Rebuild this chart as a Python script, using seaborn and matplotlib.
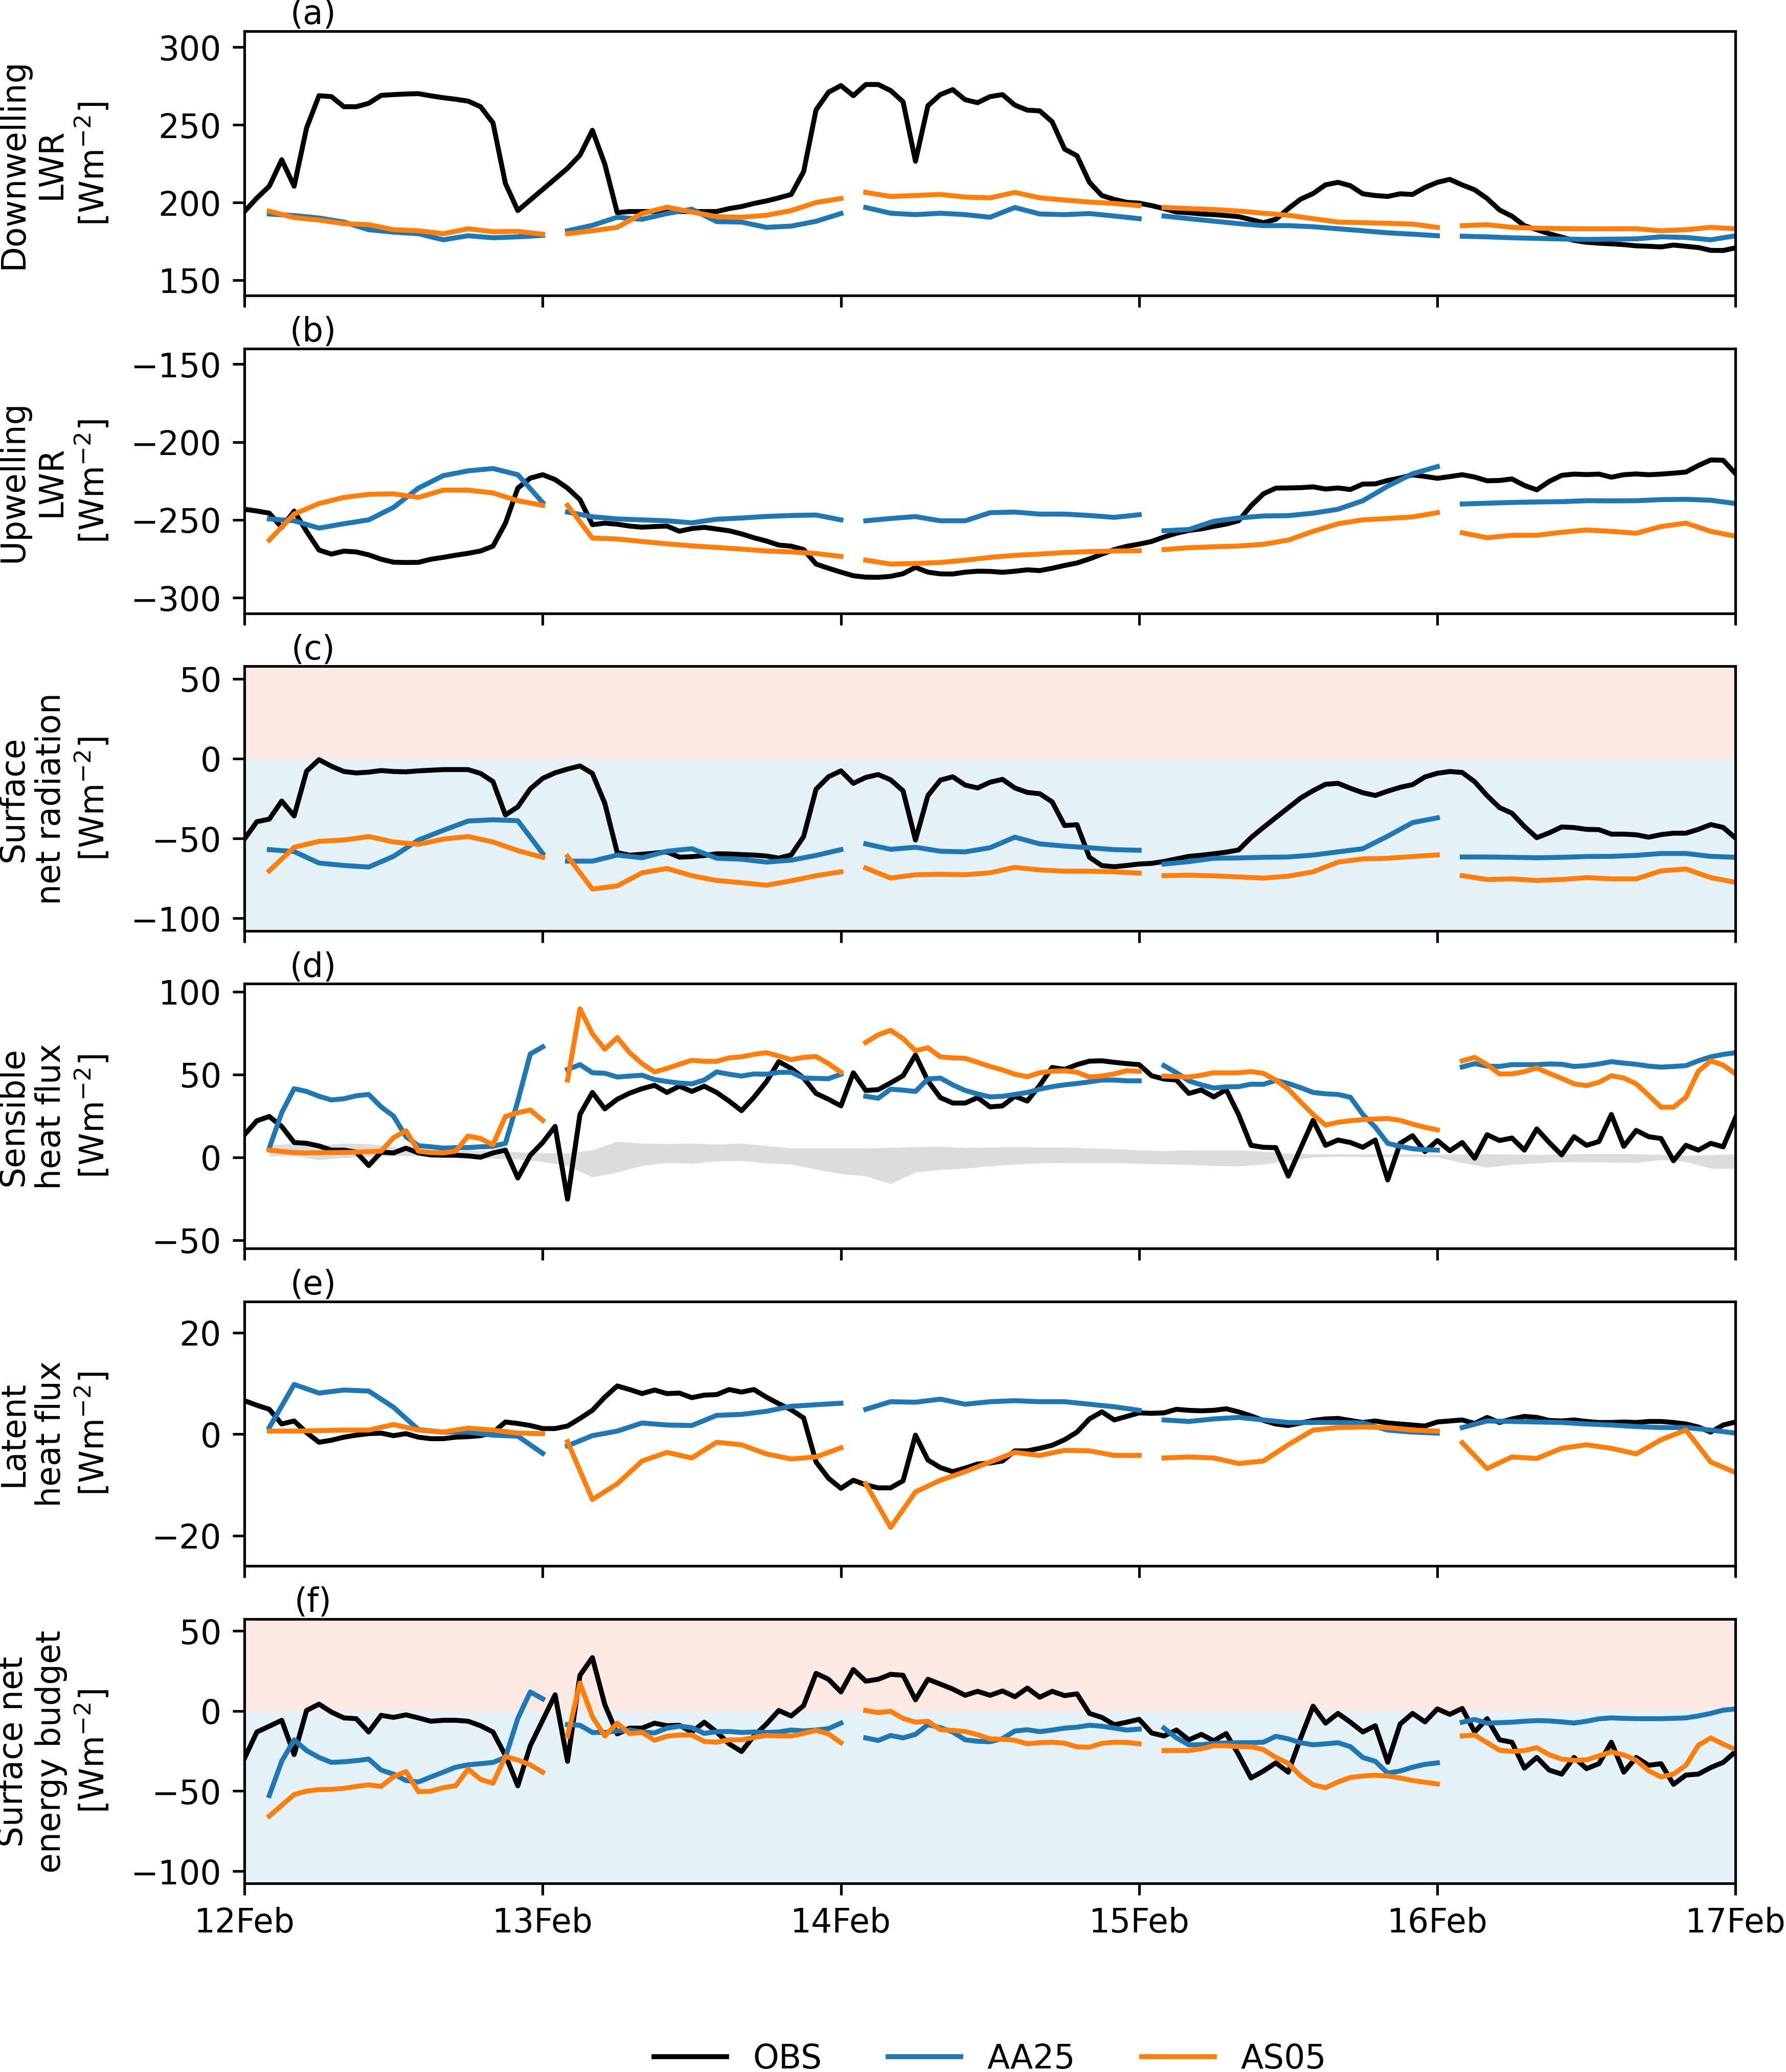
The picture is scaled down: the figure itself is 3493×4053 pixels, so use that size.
import numpy as np
import pandas as pd
import matplotlib
matplotlib.use("Agg")
import matplotlib.pyplot as plt
from matplotlib.lines import Line2D
import seaborn as sns

# ---------------- data ----------------
DAY_LABELS = ["12Feb", "13Feb", "14Feb", "15Feb", "16Feb", "17Feb"]
SOURCES = ["OBS", "AA25", "AS05"]

# (a) downwelling LWR (OBS hourly)
obs_a = [194.2, 202.9, 210.5, 227.5, 210.5, 248, 268.8, 268.2, 261.7, 261.7,
         263.9, 269, 269.5, 269.9, 270.1, 268.7, 267.5, 266.5, 265.3, 261.7,
         251.3, 212.3, 194.8, 201.6, 208.4, 215.2, 222.1, 230.5, 246.5, 224.7,
         193.5, 194.2, 194.2, 194.2, 194.2, 194.2, 194.2, 194.2, 194.2, 196.1,
         197.4, 199.4, 201, 203, 205.2, 219.9, 259.7, 271, 275.3, 268.8,
         276, 276, 272.1, 264.9, 226.6, 262.3, 269.5, 272.7, 266.2, 264.3,
         268.2, 269.5, 262.7, 259.5, 259, 252, 234.4, 230.1, 213, 204.5,
         202, 200.1, 199.6, 198, 196.1, 193.9, 193.4, 192.6, 192.2, 191.6,
         190.9, 189, 187, 189.2, 196.1, 202.2, 205.8, 211.4, 213, 210.8,
         205.6, 204.5, 203.9, 205.6, 205.2, 209.7, 213, 214.9, 211.3, 208.2,
         202.6, 195.2, 191.2, 185.1, 182.5, 179.9, 177.7, 175.6, 174.4, 173.8,
         173.4, 172.9, 172.1, 171.8, 171.4, 172.6, 171.8, 171, 169.2, 169.1,
         170.8]
aa25_a = [192.6, 191.6, 190, 187.4, 182.5, 180.9, 179.9, 176, 178.6, 177.3, 177.9, 178.8,
          181.8, 185.3, 190.5, 189.2, 192.9, 195.7, 187.7, 187.4, 184, 184.8, 187.9, 192.9,
          196.8, 193.1, 192.2, 193.1, 192.2, 190.5, 196.8, 192.6, 192.2, 192.9, 191.3, 189.6,
          191.3, 189.6, 188, 186.4, 185.1, 185.1, 184.4, 183.1, 181.8, 180.5, 179.6, 178.6,
          178.3, 177.9, 177.3, 176.9, 176.5, 176.2, 176.4, 176.6, 177.9, 177.5, 176, 178.6]
as05_a = [194.4, 190.3, 188.7, 186.4, 185.7, 182.5, 181.8, 179.9, 183.1, 181.2, 181.4, 179.6,
          179.9, 181.8, 184, 192.9, 197, 193.9, 190.9, 190.5, 191.8, 194.8, 200, 202.6,
          206.5, 203.9, 204.5, 205.2, 203.5, 203, 206.5, 203, 201.6, 200.3, 199.4, 198,
          196.8, 196.1, 195.5, 194.5, 193.1, 191.8, 189.6, 187.4, 187, 186.6, 186.1, 184,
          185.1, 185.7, 184, 183.5, 183.2, 183.1, 183.1, 183.1, 181.8, 182.5, 184, 183.1]

# (b) upwelling LWR (OBS hourly)
obs_b = [-243.2, -244.3, -245.7, -254.9, -244.4, -257.4, -269.4, -272, -270.1, -270.6,
         -272.5, -275.3, -277.2, -277.4, -277.3, -275.3, -274.1, -272.7, -271.5, -270,
         -266.9, -252.2, -229.6, -223.2, -221, -224.1, -229.6, -237, -253.1, -252.1,
         -252.8, -254, -254.7, -254.3, -254, -257.3, -255.6, -254.8, -255.9, -257,
         -259, -261.5, -263.6, -266.2, -266.9, -269.1, -278.4, -281.1, -283.6, -285.9,
         -286.8, -286.9, -286.3, -284.6, -280.5, -283.6, -284.7, -284.8, -283.6, -283,
         -283.1, -283.7, -283, -282.1, -282.6, -281.1, -279.3, -277.7, -275.1, -272,
         -269.1, -267, -265.6, -263.9, -261, -258.6, -256.8, -255.8, -254.2, -252.7,
         -250.6, -241, -233.3, -229.6, -229.5, -229.3, -228.8, -230.2, -229.5, -230.5,
         -227, -226.9, -224.7, -223.1, -221.1, -222.1, -223.3, -222.2, -221, -222.5,
         -224.9, -224.7, -223.7, -227.9, -230.7, -225.3, -221.4, -220.6, -220.9, -220.6,
         -222.6, -221, -220.5, -221, -220.6, -220, -219.3, -215.1, -211.5, -211.7,
         -220.4]
aa25_b = [-249.4, -250.6, -255.3, -252.5, -250, -242, -229.6, -221.6, -218.5, -217, -221, -238.9,
          -245, -248, -249.4, -250, -250.6, -251.9, -249.6, -248.8, -247.8, -247.2, -246.9, -250,
          -250.6, -249.1, -247.9, -250.6, -250.6, -245.4, -245, -246.3, -246.3, -247.2, -248.4, -246.7,
          -257, -256.2, -250.9, -248.8, -247.5, -247.3, -245.7, -243.2, -237.7, -228.4, -220.4, -215.8,
          -239.8, -239.3, -238.8, -238.5, -238.3, -237.7, -237.8, -237.7, -237, -236.8, -237.4, -239.5]
as05_b = [-263, -246.3, -239.5, -235.6, -233.6, -233.3, -235.6, -230.9, -230.9, -232.7, -237.7, -240.7,
          -240.7, -261.7, -262.3, -263.9, -265.4, -266.7, -267.7, -268.8, -270, -270.6, -271.6, -273.5,
          -275.9, -278.4, -278, -277.4, -275.9, -274.1, -272.8, -272, -271, -270.4, -270, -269.8,
          -269.1, -267.9, -267.3, -266.8, -265.7, -263, -257.4, -252.5, -250, -249.1, -248.1, -245.4,
          -258.3, -261.5, -259.9, -259.9, -258, -256.5, -257.4, -258.6, -254.3, -252.1, -257.4, -260.5]

# (c) surface net radiation (OBS hourly)
obs_c = [-50.4, -39.5, -37.9, -26.6, -35.9, -7.9, -0.7, -4.8, -8.1, -9,
         -8.5, -7.5, -8.1, -8.3, -7.7, -7.3, -6.9, -6.9, -6.9, -9.3,
         -14.4, -35.3, -30.2, -19, -12.4, -8.9, -6.6, -4.6, -9.3, -28,
         -58.9, -60.5, -59.9, -59.2, -58.4, -61.7, -61.4, -60.7, -59.6, -59.7,
         -60.1, -60.4, -61, -62.3, -60.3, -48.8, -19.2, -11.4, -7.7, -15.5,
         -11.8, -10, -13.3, -20.2, -51, -23.2, -13.5, -11.4, -16.6, -18.4,
         -14.8, -13, -18.4, -21.2, -22, -27.1, -41.9, -41.4, -61.8, -67,
         -67.7, -66.9, -66, -65.6, -64.4, -62.8, -61.2, -60.5, -59.6, -58.6,
         -57.2, -49.5, -43.1, -36.9, -30.8, -24.7, -20.1, -16.1, -15.5, -18.6,
         -21.4, -23.1, -20.4, -18, -16.3, -11.5, -9.2, -8.1, -8.7, -14.5,
         -23.2, -30.7, -34.2, -42.5, -49.5, -46.5, -42.8, -43.2, -44.3, -44.5,
         -47.3, -47.3, -47.7, -49.2, -47.6, -46.7, -46.7, -44.3, -41.3, -43.1,
         -49.8]
aa25_c = [-57, -58.2, -65.4, -66.9, -67.9, -61.2, -51, -44.9, -39.1, -38.3, -38.9, -59.4,
          -64.2, -64.2, -60.4, -62.1, -58, -56.4, -62.4, -63, -64.8, -63.6, -60.6, -57,
          -53.4, -56.8, -55.5, -58, -58.4, -55.8, -49.2, -53.4, -54.8, -55.8, -57, -57.4,
          -66, -64.5, -62.4, -62.2, -61.8, -61.6, -60.4, -58.4, -56.4, -48.6, -40.1, -37.1,
          -61.6, -61.6, -61.8, -62.1, -61.8, -61.3, -61.2, -60.6, -59.4, -59.4, -61.2, -61.8]
as05_c = [-70.3, -55.5, -51.8, -51, -48.8, -52.2, -53.7, -50.4, -48.8, -52.2, -57.6, -61.8,
          -61.2, -81.7, -79.7, -71.5, -68.8, -73.3, -76.3, -77.7, -79.3, -76.5, -73.3, -70.9,
          -68.5, -74.8, -72.7, -72.4, -72.7, -71.5, -68.1, -69.7, -70.5, -70.5, -70.9, -71.7,
          -73.3, -73, -73.4, -74.1, -74.8, -73.6, -70.9, -64.8, -62.8, -62.4, -61.3, -60.3,
          -73.3, -75.7, -75.3, -76.3, -75.7, -74.5, -75.3, -75.3, -70.3, -69.1, -74.5, -77.5]

# (d) sensible heat flux (hourly)
obs_d = [13.6, 22, 24.6, 18.6, 8.9, 8.4, 6.8, 4.3, 4.3, 3.1,
         -5, 3.1, 2.6, 5.5, 2.6, 1.4, 1.2, 1.2, 0.8, 0,
         2.6, 4.3, -12.5, 1.2, 8.9, 18.6, -25.3, 25.8, 39.1, 29.2,
         35, 38.7, 41.4, 43.4, 39.1, 42.9, 39.7, 42.9, 39.1, 33.9,
         28.1, 36.2, 45.5, 57.7, 53.6, 47.8, 38.5, 35, 31, 51,
         40.3, 40.8, 44.9, 49.2, 61.7, 46.1, 36, 32.7, 32.7, 36,
         30.4, 31, 36.8, 33.9, 43.4, 54.2, 53, 55.9, 58, 58.2,
         57.3, 56.5, 55.9, 49.2, 47.2, 46.6, 38.5, 40.6, 36.4, 40.8,
         25.8, 7.2, 6, 5.8, -11.4, 5.5, 22.3, 7.2, 10.4, 8.9,
         6, 10.4, -13.7, 8.4, 13, 3.4, 10.1, 3.9, 8.9, -0.6,
         13.6, 10.1, 11.6, 4.3, 17.1, 8.9, 1.4, 12.4, 7.2, 9.5,
         25.8, 6.6, 16.2, 12.4, 11.3, -2.1, 7.2, 4.3, 8.4, 6.3,
         24]
aa25_d = [5.5, 26.9, 41.4, 39.7, 36.8, 34.6, 35.3, 37.1, 37.9, 30.4, 24.8, 12.4, 7, 6.3, 5.5, 5.8, 5.8, 6.3, 6.6, 8.4, 33.9, 62.3, 66.6,
          53, 55.9, 51, 50.7, 48.4, 49, 49.5, 46.9, 45.7, 44.8, 44.3, 46.6, 51.5, 50.1, 49, 50.3, 50.1, 51.2, 51.3, 47.8, 47.6, 47.4, 50.1,
          36.8, 35.6, 41.1, 40.5, 39.7, 47.2, 47.8, 43.7, 40.3, 38.2, 36.4, 36.8, 37.9, 39.1, 41.1, 42.6, 43.7, 44.5, 45.5, 46.6, 46.6, 46.1, 46.1,
          55.3, 51, 46.1, 43.7, 41.8, 42.5, 42.6, 44.1, 44, 46.4, 44.5, 42, 39.1, 38.3, 37.9, 36.2, 25.8, 18.2, 8.4, 6.6, 5.1, 4.6, 4.3,
          54.5, 56.5, 55, 54.8, 55.9, 55.9, 55.9, 56.3, 56.1, 54.8, 55.3, 56.3, 57.7, 56.8, 56.1, 55, 54.4, 54.8, 55.3, 58.2, 60.6, 62.1, 63.1]
as05_d = [4.3, 3.5, 2.8, 2.6, 2.8, 2.8, 2.9, 3.1, 3.4, 3.7, 11.8, 16, 3.7, 2.8, 2.6, 3.7, 12.8, 11.3, 7.5, 24.6, 26.9, 28.5, 22.3,
          46.6, 89.6, 74.5, 65.2, 72.2, 63.1, 56.5, 51.5, 53.6, 56.1, 58.5, 57.9, 57.9, 60, 60.6, 62.1, 63.1, 61.1, 58.9, 60.3, 60.8, 56.5, 51.3,
          69.3, 73.9, 76.6, 71.6, 64.3, 66.1, 60.6, 60, 59.7, 57.3, 54.8, 52.7, 50.1, 48.6, 51, 51.9, 52.2, 51.3, 48.4, 49, 50.3, 52.2, 51.9,
          49, 48.7, 48.4, 49.5, 51, 50.9, 51, 51.7, 50.6, 46.6, 41.1, 33.3, 25.8, 19.4, 21.1, 22, 22.7, 23.1, 23.4, 22.3, 20, 18.1, 16.5,
          58.2, 60.3, 55.9, 50.3, 50.3, 51.7, 53.9, 50.6, 47.6, 44.3, 43.2, 45.2, 49.2, 47.8, 44.3, 37.4, 30.2, 30.2, 36.2, 51.9, 58.2, 55.6, 50.3]
band_lo_d = [0.8, 0.8, -1.5, -0.3, 0.5, 0.8, 0.8, 0.2, -0.2, -0.7, -1.2, -2.7,
             -5, -12, -9, -5, -3.3, -3.8, -2.3, -2.1, -3.5, -4.2, -7.3, -10,
             -11.4, -16, -9, -7.4, -6.7, -5.3, -4.2, -3.5, -3.3, -3.3, -3.3, -3.8,
             -4.2, -4.4, -5.1, -5.3, -4.2, -1.9, 0, 0.5, 0.2, 0.2, 0.2, 0,
             -3.3, -6.1, -4.4, -3.5, -2.8, -2.9, -3, -3.3, -1.5, -2.7, -6.7, -6.9]
band_hi_d = [7.2, 8.4, 7.2, 8.4, 8.0, 6.3, 4.6, 3.7, 4.2, 3.9, 3.1, 2.6,
             2.6, 4.3, 9.5, 8.4, 8.1, 8.4, 7.8, 8.4, 7.0, 5.5, 5.5, 5.5,
             5.5, 5.8, 6.3, 6.5, 5.8, 6.0, 6.3, 6.0, 6.0, 5.5, 5.1, 4.3,
             3.9, 4.3, 4.3, 4.3, 3.5, 2.3, 2.0, 2.0, 2.0, 2.0, 1.9, 1.6,
             2.0, 2.0, 1.9, 1.6, 1.9, 2.0, 2.0, 2.0, 1.7, 1.2, 1.4, 2.0]

# (e) latent heat flux (OBS hourly)
obs_e = [6.6, 5.7, 4.9, 2, 2.6, 0.3, -1.6, -1.2, -0.6, -0.2,
         0.1, 0.2, -0.3, 0.1, -0.6, -0.9, -0.9, -0.6, -0.5, -0.3,
         0.3, 2.4, 2.1, 1.7, 1.1, 1.1, 1.6, 3.1, 4.7, 7.3,
         9.5, 8.8, 8, 8.7, 8, 8.1, 7.2, 7.7, 7.8, 8.8,
         8.3, 8.8, 7.3, 6, 4.8, 3.2, -5.5, -8.7, -10.7, -9.1,
         -10, -10.6, -10.6, -9.2, -0.2, -5.1, -6.6, -7.4, -6.7, -5.9,
         -5.7, -5.3, -3.3, -3.3, -2.8, -2.2, -1.1, 0.4, 3, 4.4,
         2.8, 3.5, 4.2, 4.1, 4.2, 4.9, 4.7, 4.6, 4.7, 5,
         4.4, 3.6, 2.7, 2, 1.7, 2.2, 2.7, 3, 3.1, 2.7,
         2.3, 2.6, 2.2, 2, 1.8, 1.6, 2.4, 2.6, 2.8, 2.1,
         3.3, 2.3, 3, 3.5, 3.3, 2.7, 2.6, 2.8, 2.5, 2.3,
         2.3, 2.4, 2.3, 2.5, 2.5, 2.3, 2, 1.4, 0.4, 1.8,
         2.4]
aa25_e = [1.3, 9.8, 8.1, 8.7, 8.5, 5.3, 0.9, 0.4, 0.4, -0.2, -0.4, -3.8,
          -2.3, -0.3, 0.6, 2.2, 1.8, 1.7, 3.7, 3.9, 4.5, 5.5, 5.8, 6.1,
          4.9, 6.4, 6.3, 6.9, 5.9, 6.4, 6.6, 6.4, 6.4, 5.9, 5.4, 4.7,
          2.8, 2.5, 3, 3.3, 2.8, 2.3, 2.3, 2.3, 2.2, 0.8, 0.4, 0.2,
          1.3, 2.6, 2.5, 2.4, 2.3, 2, 1.8, 1.5, 1.3, 1.3, 0.8, 0.2]
as05_e = [0.6, 0.6, 0.7, 0.8, 0.8, 1.9, 0.8, 0.4, 1.2, 0.8, 0.2, 0.1,
          -1.5, -12.9, -9.8, -5.3, -3.6, -4.7, -1.6, -2.1, -3.9, -4.9, -4.5, -2.7,
          -9.8, -18.4, -11.4, -9.1, -7.4, -5.5, -3.6, -4.2, -3.2, -3.3, -4.2, -4.2,
          -4.7, -4.5, -4.7, -5.8, -5.3, -2.1, 0.8, 1.3, 1.4, 1.3, 0.8, 0.6,
          -1.7, -6.8, -4.5, -4.8, -2.8, -2.1, -2.8, -3.9, -1.1, 0.8, -5.5, -7.6]

# (f) surface net energy budget (hourly)
obs_f = [-29.6, -13.1, -9.5, -5.8, -27.2, 0.3, 4.3, -0.7, -4.3, -4.8,
         -13.1, -2.7, -4, -2.4, -4.3, -6.4, -5.8, -5.8, -6.4, -9.2,
         -13.1, -27.8, -46.7, -21.7, -5.8, 10.1, -31.4, 22.3, 33.3, 4,
         -14.3, -10.7, -10.7, -7.6, -9.2, -8.9, -13.1, -7, -13.1, -20.5,
         -25.3, -15.6, -8.2, 0.3, -3.1, 3.4, 23.5, 19.8, 11.9, 25.9,
         18.6, 19.8, 22.9, 22.3, 7, 19.8, 16.8, 13.7, 9.8, 12.3,
         9.8, 12.5, 8.9, 14.3, 8.6, 12.3, 9.6, 10.7, -1.5, -4,
         -8.6, -7, -5.2, -13.7, -15.6, -11.9, -18, -14.6, -18.6, -14.1,
         -27.2, -41.8, -37.5, -32.4, -38.2, -16.8, 3, -7.6, -1.5, -7,
         -13.1, -9.2, -32, -8.2, -1.5, -6.8, 1.3, -2.1, 1.6, -13.1,
         -4.8, -18, -19.5, -35.7, -29, -36.9, -39.4, -29, -36, -32.9,
         -19.5, -38.2, -29, -33.9, -32.9, -45.8, -40, -39.4, -35.3, -32.1,
         -25.3]
aa25_f = [-52.8, -31.4, -18, -24.7, -29, -32.1, -31.7, -31, -30, -36.9, -39.4, -43.4, -44.3, -41.2, -38.2, -35.1, -33.6, -32.9, -32.1, -29, -4.6, 11.9, 7.6,
          -8.5, -8.9, -13.4, -13.4, -12.5, -11.9, -13.1, -13.7, -10.7, -9.5, -10.4, -14, -12.9, -12.8, -13.4, -13.1, -13.4, -13.1, -11.9, -12.4, -11.9, -11, -7.6,
          -16.8, -18.4, -15.3, -16.8, -14.6, -8.5, -10.4, -13.1, -18, -18.9, -19.2, -17.2, -12.5, -11.7, -12.9, -11.9, -10.7, -10.1, -8.9, -9.5, -10.7, -11.9, -11.3,
          -10.7, -16.8, -21.1, -21.1, -20.2, -20, -19.8, -19.8, -19.5, -15.8, -17.4, -19.8, -21.1, -20.5, -19.8, -22.3, -29, -31.4, -38.8, -37.5, -35.1, -33.3, -32.4,
          -7, -5.3, -7.6, -7.3, -7, -6.4, -6, -6.2, -6.8, -7.5, -6.4, -4.9, -4.3, -4.6, -4.8, -4.8, -4.8, -4.6, -4.3, -3.1, -1.5, 0.5, 1.3]
as05_f = [-65.6, -58.9, -52.2, -50, -49.1, -48.9, -48.3, -47.1, -46.1, -47.1, -41, -37.8, -50.4, -50.1, -47.9, -46.7, -36.3, -42.7, -45.1, -28.4, -30.6, -33.6, -38.2,
          -15.6, 17.4, -3.6, -15.6, -7.6, -14.1, -13.4, -18.3, -15.8, -15, -15, -19, -19.5, -18, -18, -16.5, -15.3, -15.6, -15.6, -14, -12.1, -14.3, -19.8,
          0.3, -1, -0.2, -4.6, -7, -6.4, -11.7, -12.1, -12.8, -14.8, -17.4, -17.6, -18.3, -20.5, -19.8, -19.5, -20.1, -22.4, -22.6, -20.2, -19.5, -19.6, -20.5,
          -24.7, -24.7, -24.7, -23.6, -21.7, -21.7, -22.3, -22.3, -24.1, -29, -32.7, -40.6, -46.1, -47.9, -44.3, -41.5, -40.6, -40.1, -40.6, -41.8, -43.4, -44.5, -45.5,
          -15.6, -15, -19.8, -24.5, -25.3, -24.7, -22.9, -27.3, -30, -30.8, -30.5, -28, -25.6, -27.4, -30.8, -37.3, -41.2, -39.4, -33.9, -21.4, -16.8, -20.7, -24.1]

YLABELS = ["Downwelling\nLWR\n[Wm$^{-2}$]",
           "Upwelling\nLWR\n[Wm$^{-2}$]",
           "Surface\nnet radiation\n[Wm$^{-2}$]",
           "Sensible\nheat flux\n[Wm$^{-2}$]",
           "Latent\nheat flux\n[Wm$^{-2}$]",
           "Surface net\nenergy budget\n[Wm$^{-2}$]"]
PANEL_TAGS = ["(a)", "(b)", "(c)", "(d)", "(e)", "(f)"]
YTICKS = [[150, 200, 250, 300], [-300, -250, -200, -150], [-100, -50, 0, 50],
          [-50, 0, 50, 100], [-20, 0, 20], [-100, -50, 0, 50]]

# ---------------- styling ----------------
COLORS = {"OBS": "black", "AA25": "#1f77b4", "AS05": "#ff7f0e"}
YLIMS = [(140, 310.4), (-310, -140), (-107.8, 57.8), (-55, 104.7), (-26, 26.2), (-107.7, 57.5)]
PINK = "#fde9e3"
LIGHTBLUE = "#e4f2f8"
BAND = "#dcdcdc"


def build_frame(obs, aa, asv):
    obs = np.asarray(obs, float)
    parts = [pd.DataFrame({"hour": np.linspace(0, 120, len(obs)), "value": obs,
                           "source": "OBS", "seg": 0})]
    for name, vals in (("AA25", aa), ("AS05", asv)):
        v = np.asarray(vals, float).reshape(5, -1)
        n = v.shape[1]
        hrs = (24 * np.arange(5)[:, None] + np.linspace(2, 24, n)[None, :]).ravel()
        parts.append(pd.DataFrame({"hour": hrs, "value": v.ravel(), "source": name,
                                   "seg": np.repeat(np.arange(5), n)}))
    return pd.concat(parts, ignore_index=True)


frames = [build_frame(obs_a, aa25_a, as05_a), build_frame(obs_b, aa25_b, as05_b),
          build_frame(obs_c, aa25_c, as05_c), build_frame(obs_d, aa25_d, as05_d),
          build_frame(obs_e, aa25_e, as05_e), build_frame(obs_f, aa25_f, as05_f)]

DPI = 465
plt.rcParams["font.family"] = ["DejaVu Sans"]
fig = plt.figure(figsize=((3493 + 0.5) / DPI, (4053 + 0.5) / DPI), dpi=DPI)

L, W = 478 / 3493, 2916 / 3493
TOP0 = 1 - 61.3 / 4053
H = 517.5 / 4053
P = 621.1 / 4053

for i, df in enumerate(frames):
    ax = fig.add_axes([L, TOP0 - H - i * P, W, H])
    if i in (2, 5):
        ax.axhspan(0, 1000, color=PINK, lw=0, zorder=0)
        ax.axhspan(-1000, 0, color=LIGHTBLUE, lw=0, zorder=0)
    if i == 3:
        bh = np.linspace(2, 120, len(band_lo_d))
        ax.fill_between(bh, band_lo_d, band_hi_d, color=BAND, lw=0, zorder=1)
    sns.lineplot(data=df, x="hour", y="value", hue="source", hue_order=SOURCES,
                 palette=COLORS, units="seg", estimator=None, linewidth=1.5,
                 legend=False, ax=ax, zorder=2)
    ax.set_xlim(0, 120)
    ax.set_ylim(*YLIMS[i])
    ax.set_yticks(YTICKS[i])
    ax.set_xticks(np.arange(0, 121, 24))
    if i == 5:
        ax.set_xticklabels(DAY_LABELS)
    else:
        ax.set_xticklabels([])
    ax.set_xlabel("")
    ax.set_ylabel(YLABELS[i])
    ax.yaxis.set_label_coords(-0.0896, 0.5)
    ax.text(0.046, 1.0, PANEL_TAGS[i], transform=ax.transAxes, ha="center", va="bottom")

handles = [Line2D([], [], color=COLORS[s], lw=1.5) for s in SOURCES]
fig.legend(handles, SOURCES, loc="center", bbox_to_anchor=(0.5543, 0.0062), ncol=3,
           frameon=False, handlelength=2.2)

fig.savefig("out.png", dpi=DPI)
